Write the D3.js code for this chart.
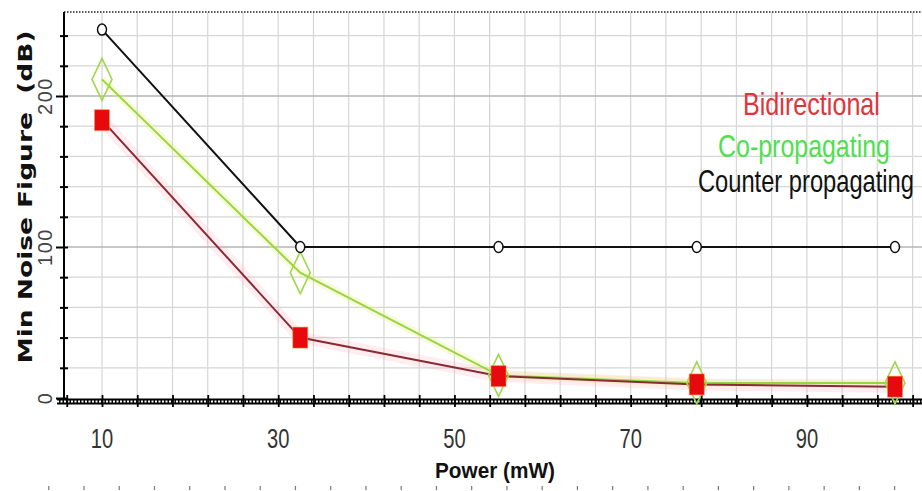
<!DOCTYPE html>
<html>
<head>
<meta charset="utf-8">
<script src="https://cdn.jsdelivr.net/npm/d3@7"></script>
<style>
  body { margin: 0; background: #fff; }
  svg { display: block; }
</style>
</head>
<body>
<div id="chart"></div>
<script>
// SVG dimensions
var w = 922;
var h = 491;

// Data
var powers = [10, 32.5, 55, 77.5, 100];
var bidirectional = [184, 40, 14.5, 9, 7.5];
var coPropagating = [211, 83, 15, 10, 10];
var counterPropagating = [244, 100, 100, 100, 100];

var xTickLabels = [10, 30, 50, 70, 90];
var yTickLabels = [0, 100, 200];
var legendNames = ['Bidirectional', 'Co-propagating', 'Counter propagating'];

var plot = { left: 64, top: 12, right: 922, bottom: 400 };

var svg = d3.select('#chart')
  .append('svg')
  .attr('width', w)
  .attr('height', h);

// Scales
var xScale = d3.scaleLinear()
  .domain([10, 100])
  .range([102, 895]);

var yScale = d3.scaleLinear()
  .domain([0, 100])
  .range([398, 247]);

var xMinor = d3.range(6, 105, 4);
var yMinor = d3.range(0, 241, 20);

// condensed text: no narrow font installed, so squeeze horizontally
var narrowFont = 'Liberation Sans, Arial, sans-serif';

// squeeze a text node to a target width with a transform
var squeeze = function (sel, x, y, width) {
  sel.each(function () {
    var natural = this.getComputedTextLength();
    d3.select(this)
      .attr('transform', `translate(${x}, ${y}) scale(${width / natural}, 1)`);
  });
};

// Grid
svg.append('g')
  .selectAll('line')
  .data(xMinor.filter(d => d >= 10))
  .enter()
  .append('line')
  .attr('x1', d => xScale(d))
  .attr('x2', d => xScale(d))
  .attr('y1', plot.top)
  .attr('y2', plot.bottom)
  .attr('stroke', '#d6d6d6')
  .attr('stroke-width', 1.2);

svg.append('g')
  .selectAll('line')
  .data(yMinor.filter(d => d > 0))
  .enter()
  .append('line')
  .attr('x1', plot.left)
  .attr('x2', plot.right)
  .attr('y1', d => yScale(d))
  .attr('y2', d => yScale(d))
  .attr('stroke', d => d % 100 === 0 ? '#b4b4b4' : '#d6d6d6')
  .attr('stroke-width', d => d % 100 === 0 ? 1.6 : 1.2);

// Top dotted border
svg.append('line')
  .attr('x1', plot.left)
  .attr('x2', plot.right)
  .attr('y1', plot.top)
  .attr('y2', plot.top)
  .attr('stroke', '#222')
  .attr('stroke-width', 1.5)
  .attr('stroke-dasharray', '1.5,1.5');

// Y axis
var yAxis = d3.axisLeft(yScale)
  .tickValues(yMinor)
  .tickSize(4)
  .tickFormat('');

var yAxisGroup = svg.append('g')
  .attr('transform', `translate(${plot.left}, 0)`)
  .call(yAxis);
yAxisGroup.select('.domain').remove();
yAxisGroup.selectAll('.tick line')
  .attr('x2', d => d % 100 === 0 ? -8 : -4)
  .attr('x1', 4)
  .attr('stroke', '#000')
  .attr('stroke-width', 2);

svg.append('line')
  .attr('x1', plot.left)
  .attr('x2', plot.left)
  .attr('y1', plot.top)
  .attr('y2', plot.bottom + 4)
  .attr('stroke', '#000')
  .attr('stroke-width', 2);

svg.append('g')
  .selectAll('text')
  .data(yTickLabels)
  .enter()
  .append('text')
  .attr('transform', d => `translate(52, ${yScale(d)}) rotate(-90)`)
  .attr('text-anchor', 'middle')
  .attr('font-family', 'Liberation Sans, Arial, sans-serif')
  .attr('font-size', 20)
  .attr('letter-spacing', 1.5)
  .attr('fill', '#444')
  .text(d => d);

// X axis: hatched band
svg.append('rect')
  .attr('x', 57)
  .attr('y', 398.5)
  .attr('width', plot.right - 57)
  .attr('height', 6)
  .attr('fill', '#000');
svg.append('line')
  .attr('x1', 57)
  .attr('x2', plot.right)
  .attr('y1', 401.5)
  .attr('y2', 401.5)
  .attr('stroke', '#fff')
  .attr('stroke-width', 2)
  .attr('stroke-dasharray', '2,1.5');

var xAxis = d3.axisBottom(xScale)
  .tickValues(xMinor)
  .tickSize(6)
  .tickFormat('');

var xAxisGroup = svg.append('g')
  .attr('transform', `translate(0, 401)`)
  .call(xAxis);
xAxisGroup.select('.domain').remove();
xAxisGroup.selectAll('.tick line')
  .attr('y1', -6)
  .attr('stroke', '#000')
  .attr('stroke-width', 1.8);

svg.append('g')
  .selectAll('text')
  .data(xTickLabels)
  .enter()
  .append('text')
  .attr('transform', d => `translate(${xScale(d)}, 448) scale(0.72, 1)`)
  .attr('text-anchor', 'middle')
  .attr('font-family', narrowFont)
  .attr('font-size', 28)
  .attr('fill', '#333')
  .text(d => d);

// Faint marks along the bottom edge
svg.append('g')
  .selectAll('line')
  .data(xMinor)
  .enter()
  .append('line')
  .attr('x1', d => xScale(d) - 18)
  .attr('x2', d => xScale(d) - 18)
  .attr('y1', 486)
  .attr('y2', 490)
  .attr('stroke', '#777')
  .attr('stroke-width', 1.2);

// Axis titles
svg.append('text')
  .attr('font-family', narrowFont)
  .attr('font-weight', 'bold')
  .attr('font-size', 22)
  .attr('fill', '#111')
  .text('Power (mW)')
  .call(squeeze, 435, 478, 120);

svg.append('text')
  .attr('transform', 'translate(32, 197) rotate(-90)')
  .attr('text-anchor', 'middle')
  .attr('font-family', 'DejaVu Sans, sans-serif')
  .attr('font-weight', 'bold')
  .attr('font-size', 19)
  .attr('textLength', 333)
  .attr('lengthAdjust', 'spacingAndGlyphs')
  .attr('fill', '#111')
  .style('white-space', 'pre')
  .text('Min Noise Figure  (dB)');

// Lines
var line = values => d3.line()
  .x((d, i) => xScale(powers[i]))
  .y(d => yScale(d))(values);

// halos
svg.append('path')
  .attr('d', line(bidirectional))
  .attr('fill', 'none')
  .attr('stroke', '#ff9aa8')
  .attr('stroke-opacity', 0.18)
  .attr('stroke-width', 12);
svg.append('path')
  .attr('d', line(coPropagating))
  .attr('fill', 'none')
  .attr('stroke', '#e8f070')
  .attr('stroke-opacity', 0.25)
  .attr('stroke-width', 8);

svg.append('path')
  .attr('d', line(counterPropagating))
  .attr('fill', 'none')
  .attr('stroke', '#111')
  .attr('stroke-width', 2);

svg.append('path')
  .attr('d', line(coPropagating))
  .attr('fill', 'none')
  .attr('stroke', '#96d640')
  .attr('stroke-width', 2);

svg.append('path')
  .attr('d', line(bidirectional))
  .attr('fill', 'none')
  .attr('stroke', '#8a2a36')
  .attr('stroke-width', 2);

// Markers
svg.append('g')
  .selectAll('path')
  .data(coPropagating)
  .enter()
  .append('path')
  .attr('d', (d, i) => {
    var cx = xScale(powers[i]);
    var cy = yScale(d);
    return `M${cx},${cy - 21}L${cx + 10},${cy}L${cx},${cy + 21}L${cx - 10},${cy}Z`;
  })
  .attr('fill', 'none')
  .attr('stroke', '#9ed84a')
  .attr('stroke-width', 1.6);

svg.append('g')
  .selectAll('rect')
  .data(bidirectional)
  .enter()
  .append('rect')
  .attr('x', (d, i) => xScale(powers[i]) - 7.5)
  .attr('y', d => yScale(d) - 10.5)
  .attr('width', 15)
  .attr('height', 21)
  .attr('fill', '#e8090e')
  .attr('stroke', '#f0a040')
  .attr('stroke-opacity', 0.5)
  .attr('stroke-width', 1);

svg.append('g')
  .selectAll('ellipse')
  .data(counterPropagating)
  .enter()
  .append('ellipse')
  .attr('cx', (d, i) => xScale(powers[i]))
  .attr('cy', d => yScale(d))
  .attr('rx', 4.5)
  .attr('ry', 5.5)
  .attr('fill', '#fff')
  .attr('stroke', '#111')
  .attr('stroke-width', 1.5);

// Legend
var legendColors = ['#e0343c', '#4ee04e', '#111'];
var legendX = [743, 718, 698];
var legendY = [115, 157, 192];
var legendWidth = [137, 172, 216];

svg.append('g')
  .selectAll('text')
  .data(legendNames)
  .enter()
  .append('text')
  .attr('font-family', narrowFont)
  .attr('font-size', 32)
  .attr('fill', (d, i) => legendColors[i])
  .text(d => d)
  .each(function (d, i) {
    d3.select(this).call(squeeze, legendX[i], legendY[i], legendWidth[i]);
  });
</script>
</body>
</html>
